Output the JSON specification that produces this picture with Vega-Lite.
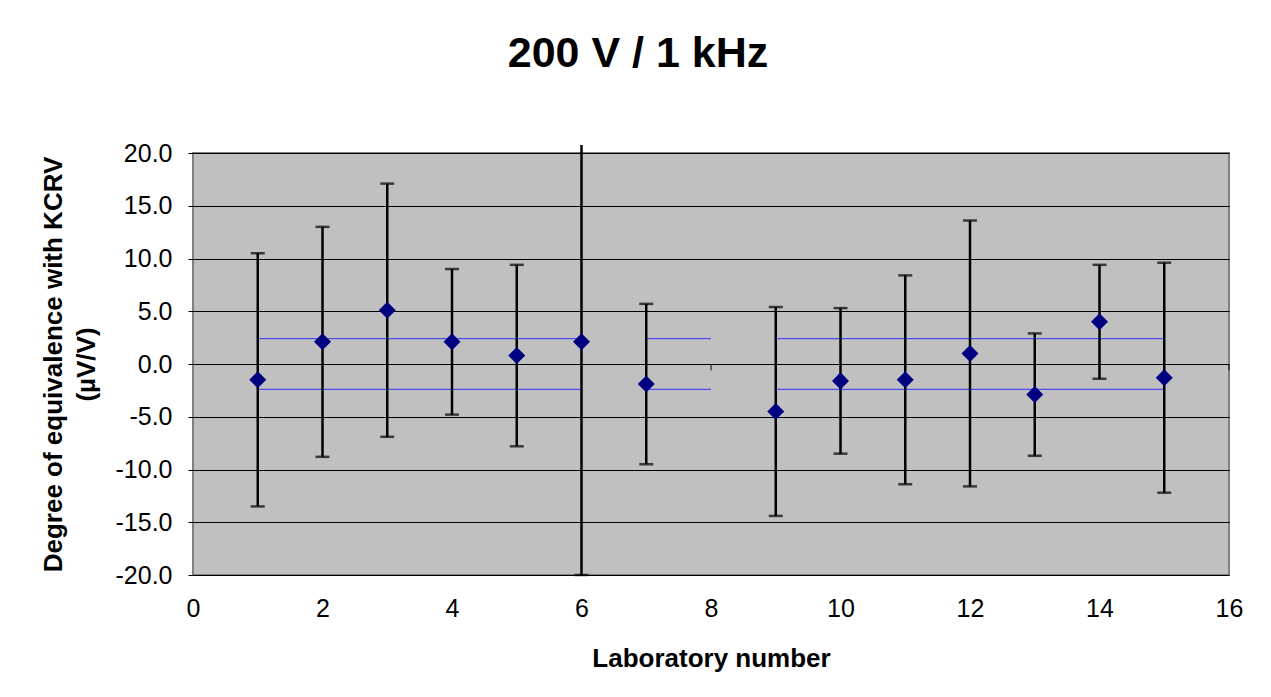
{
  "$schema": "https://vega.github.io/schema/vega-lite/v6.json",
  "autosize": "none",
  "width": 1036,
  "height": 422,
  "padding": {"left": 193, "top": 153, "right": 42, "bottom": 122},
  "background": "white",
  "title": {
    "text": "200 V / 1 kHz",
    "font": "Liberation Sans",
    "fontSize": 43,
    "fontWeight": "bold",
    "color": "black",
    "frame": "group",
    "anchor": "middle",
    "baseline": "alphabetic",
    "offset": 31,
    "dx": -73
  },
  "datasets": {
    "labs": [
      {"lab": 1, "value": -1.5, "lo": -13.5, "hi": 10.5},
      {"lab": 2, "value": 2.1, "lo": -8.8, "hi": 13.0},
      {"lab": 3, "value": 5.1, "lo": -6.9, "hi": 17.1},
      {"lab": 4, "value": 2.1, "lo": -4.8, "hi": 9.0},
      {"lab": 5, "value": 0.8, "lo": -7.8, "hi": 9.4},
      {"lab": 6, "value": 2.1, "lo": -20.0, "hi": 20.75},
      {"lab": 7, "value": -1.9, "lo": -9.5, "hi": 5.7},
      {"lab": 9, "value": -4.5, "lo": -14.4, "hi": 5.4},
      {"lab": 10, "value": -1.6, "lo": -8.5, "hi": 5.3},
      {"lab": 11, "value": -1.5, "lo": -11.4, "hi": 8.4},
      {"lab": 12, "value": 1.0, "lo": -11.6, "hi": 13.6},
      {"lab": 13, "value": -2.9, "lo": -8.7, "hi": 2.9},
      {"lab": 14, "value": 4.0, "lo": -1.4, "hi": 9.4},
      {"lab": 15, "value": -1.3, "lo": -12.2, "hi": 9.6}
    ],
    "bounds": [
      {"lab": 1, "limit": 2.4, "seg": "a", "side": "upper"},
      {"lab": 6, "limit": 2.4, "seg": "a", "side": "upper"},
      {"lab": 1, "limit": -2.4, "seg": "a", "side": "lower"},
      {"lab": 6, "limit": -2.4, "seg": "a", "side": "lower"},
      {"lab": 7, "limit": 2.4, "seg": "b", "side": "upper"},
      {"lab": 8, "limit": 2.4, "seg": "b", "side": "upper"},
      {"lab": 7, "limit": -2.4, "seg": "b", "side": "lower"},
      {"lab": 8, "limit": -2.4, "seg": "b", "side": "lower"},
      {"lab": 9, "limit": 2.4, "seg": "c", "side": "upper"},
      {"lab": 15, "limit": 2.4, "seg": "c", "side": "upper"},
      {"lab": 9, "limit": -2.4, "seg": "c", "side": "lower"},
      {"lab": 15, "limit": -2.4, "seg": "c", "side": "lower"}
    ],
    "stubs": [
      {"lab": 8, "lo": -0.6, "hi": 0},
      {"lab": 16, "lo": -0.6, "hi": 0}
    ]
  },
  "layer": [
    {
      "data": {"name": "bounds"},
      "mark": {"type": "line", "color": "#3333FF", "strokeWidth": 1},
      "encoding": {
        "x": {"field": "lab", "type": "quantitative"},
        "y": {"field": "limit", "type": "quantitative"},
        "detail": [{"field": "seg"}, {"field": "side"}]
      }
    },
    {
      "data": {"name": "stubs"},
      "mark": {"type": "rule", "color": "black", "strokeWidth": 1},
      "encoding": {
        "x": {"field": "lab", "type": "quantitative"},
        "y": {"field": "lo", "type": "quantitative"},
        "y2": {"field": "hi"}
      }
    },
    {
      "data": {"name": "labs"},
      "mark": {"type": "rule", "color": "black", "strokeWidth": 2.5},
      "encoding": {
        "x": {"field": "lab", "type": "quantitative"},
        "y": {"field": "lo", "type": "quantitative"},
        "y2": {"field": "hi"}
      }
    },
    {
      "data": {"name": "labs"},
      "mark": {"type": "tick", "orient": "horizontal", "color": "black", "size": 14, "thickness": 2.5},
      "encoding": {
        "x": {"field": "lab", "type": "quantitative"},
        "y": {"field": "lo", "type": "quantitative"}
      }
    },
    {
      "data": {"name": "labs"},
      "transform": [{"filter": "datum.hi <= 20"}],
      "mark": {"type": "tick", "orient": "horizontal", "color": "black", "size": 14, "thickness": 2.5},
      "encoding": {
        "x": {"field": "lab", "type": "quantitative"},
        "y": {"field": "hi", "type": "quantitative"}
      }
    },
    {
      "data": {"name": "labs"},
      "mark": {"type": "point", "shape": "diamond", "filled": true, "color": "#000080", "size": 290, "opacity": 1},
      "encoding": {
        "x": {
          "field": "lab", "type": "quantitative",
          "scale": {"domain": [0, 16], "nice": false, "zero": false},
          "axis": {
            "title": "Laboratory number",
            "values": [0, 2, 4, 6, 8, 10, 12, 14, 16],
            "labelExpr": "format(datum.value, 'd')",
            "labelFlush": false,
            "grid": false,
            "ticks": false,
            "domain": false,
            "labelFont": "Liberation Sans",
            "labelFontSize": 25,
            "labelColor": "black",
            "labelPadding": 21,
            "titleFont": "Liberation Sans",
            "titleFontSize": 26,
            "titleFontWeight": "bold",
            "titleColor": "black",
            "titlePadding": 24
          }
        },
        "y": {
          "field": "value", "type": "quantitative",
          "scale": {"domain": [-20, 20], "nice": false, "zero": false},
          "axis": {
            "title": ["Degree of equivalence with KCRV", "(µV/V)"],
            "values": [-20, -15, -10, -5, 0, 5, 10, 15, 20],
            "labelExpr": "replace(format(datum.value, '.1f'), '\u2212', '-')",
            "labelFlush": false,
            "grid": true,
            "gridColor": "black",
            "gridWidth": 1,
            "gridOpacity": 1,
            "ticks": true,
            "tickSize": 5,
            "tickColor": "black",
            "tickWidth": 1,
            "domain": false,
            "labelFont": "Liberation Sans",
            "labelFontSize": 25,
            "labelColor": "black",
            "labelPadding": 16,
            "titleFont": "Liberation Sans",
            "titleFontSize": 26,
            "titleFontWeight": "bold",
            "titleColor": "black",
            "titleLineHeight": 33,
            "titlePadding": 16
          }
        }
      }
    }
  ],
  "config": {
    "view": {"fill": "#C0C0C0", "stroke": "#808080", "strokeWidth": 2}
  }
}
